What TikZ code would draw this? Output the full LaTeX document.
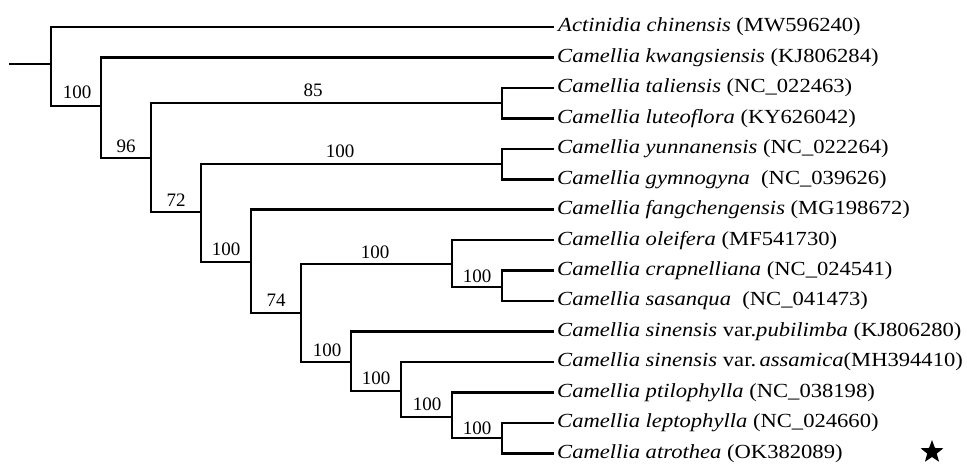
\documentclass[tikz,border=0pt]{standalone}
\usepackage{fontspec}
\setmainfont{Liberation Serif}
\newfontfamily\tipfont{Liberation Serif}[FakeStretch=1.13]
\usetikzlibrary{shapes.geometric}
\begin{document}
\begin{tikzpicture}[x=1pt,y=-1pt,
  branch/.style={line width=2.6pt,line cap=rect},
  tiplabel/.style={anchor=west,inner sep=0pt,font=\tipfont\fontsize{20}{24}\selectfont},
  support/.style={inner sep=0pt,font=\fontsize{19}{22}\selectfont},
  starmark/.style={star,star points=5,star point ratio=2.4,fill=black,inner sep=0pt,minimum size=24pt}]
\useasboundingbox (0,0) rectangle (967,464);
% tips
\foreach \i in {0,...,14}{
  \coordinate (t\i) at (553,{27+30.45*\i});
}
% internal nodes
\coordinate (root) at (10,64);
\coordinate (n1) at (51,64);
\coordinate (n2) at (101,106);
\coordinate (n3) at (151,158);
\coordinate (ntl) at (502,103);
\coordinate (n4) at (201,212);
\coordinate (nyg) at (502,164);
\coordinate (n5) at (251,262);
\coordinate (n6) at (301,313);
\coordinate (nocs) at (452,264);
\coordinate (ncs) at (502,287);
\coordinate (n7) at (351,362);
\coordinate (n8) at (401,391);
\coordinate (n9) at (452,417);
\coordinate (n10) at (502,438);
% branches
\draw[branch] (root) -- (n1);
\draw[branch] (n1) |- (t0);
\draw[branch] (n1) |- (n2);
\draw[branch] (n2) |- (t1);
\draw[branch] (n2) |- (n3);
\draw[branch] (n3) |- (ntl);
\draw[branch] (ntl) |- (t2);
\draw[branch] (ntl) |- (t3);
\draw[branch] (n3) |- (n4);
\draw[branch] (n4) |- (nyg);
\draw[branch] (nyg) |- (t4);
\draw[branch] (nyg) |- (t5);
\draw[branch] (n4) |- (n5);
\draw[branch] (n5) |- (t6);
\draw[branch] (n5) |- (n6);
\draw[branch] (n6) |- (nocs);
\draw[branch] (nocs) |- (t7);
\draw[branch] (nocs) |- (ncs);
\draw[branch] (ncs) |- (t8);
\draw[branch] (ncs) |- (t9);
\draw[branch] (n6) |- (n7);
\draw[branch] (n7) |- (t10);
\draw[branch] (n7) |- (n8);
\draw[branch] (n8) |- (t11);
\draw[branch] (n8) |- (n9);
\draw[branch] (n9) |- (t12);
\draw[branch] (n9) |- (n10);
\draw[branch] (n10) |- (t13);
\draw[branch] (n10) |- (t14);
% support values
\node[support] (s1) at (77,92) {100};
\node[support] (s2) at (126,146) {96};
\node[support] (s3) at (313,90) {85};
\node[support] (s4) at (176,200) {72};
\node[support] (s5) at (340,151) {100};
\node[support] (s6) at (226,249) {100};
\node[support] (s7) at (276,300) {74};
\node[support] (s8) at (375,252) {100};
\node[support] (s9) at (477,276) {100};
\node[support] (s10) at (327,350) {100};
\node[support] (s11) at (376,378) {100};
\node[support] (s12) at (427,404) {100};
\node[support] (s13) at (477,428) {100};
% tip labels
\node[tiplabel] (L0) at ([xshift=5pt]t0) {\textit{Actinidia chinensis} (MW596240)};
\node[tiplabel] (L1) at ([xshift=4pt]t1) {\textit{Camellia kwangsiensis} (KJ806284)};
\node[tiplabel] (L2) at ([xshift=4pt]t2) {\textit{Camellia taliensis} (NC\_022463)};
\node[tiplabel] (L3) at ([xshift=4pt]t3) {\textit{Camellia luteoflora} (KY626042)};
\node[tiplabel] (L4) at ([xshift=4pt]t4) {\textit{Camellia yunnanensis} (NC\_022264)};
\node[tiplabel] (L5) at ([xshift=4pt]t5) {\textit{Camellia gymnogyna}\ \ (NC\_039626)};
\node[tiplabel] (L6) at ([xshift=4pt]t6) {\textit{Camellia fangchengensis} (MG198672)};
\node[tiplabel] (L7) at ([xshift=4pt]t7) {\textit{Camellia oleifera} (MF541730)};
\node[tiplabel] (L8) at ([xshift=4pt]t8) {\textit{Camellia crapnelliana} (NC\_024541)};
\node[tiplabel] (L9) at ([xshift=4pt]t9) {\textit{Camellia sasanqua}\ \ (NC\_041473)};
\node[tiplabel] (L10) at ([xshift=4pt]t10) {\textit{Camellia sinensis} var.\textit{pubilimba} (KJ806280)};
\node[tiplabel] (L11) at ([xshift=4pt]t11) {\textit{Camellia sinensis} var.\,\textit{assamica}(MH394410)};
\node[tiplabel] (L12) at ([xshift=4pt]t12) {\textit{Camellia ptilophylla} (NC\_038198)};
\node[tiplabel] (L13) at ([xshift=4pt]t13) {\textit{Camellia leptophylla} (NC\_024660)};
\node[tiplabel] (L14) at ([xshift=4pt]t14) {\textit{Camellia atrothea} (OK382089)};
\node[starmark] (st) at (932,452) {};
\end{tikzpicture}
\end{document}
